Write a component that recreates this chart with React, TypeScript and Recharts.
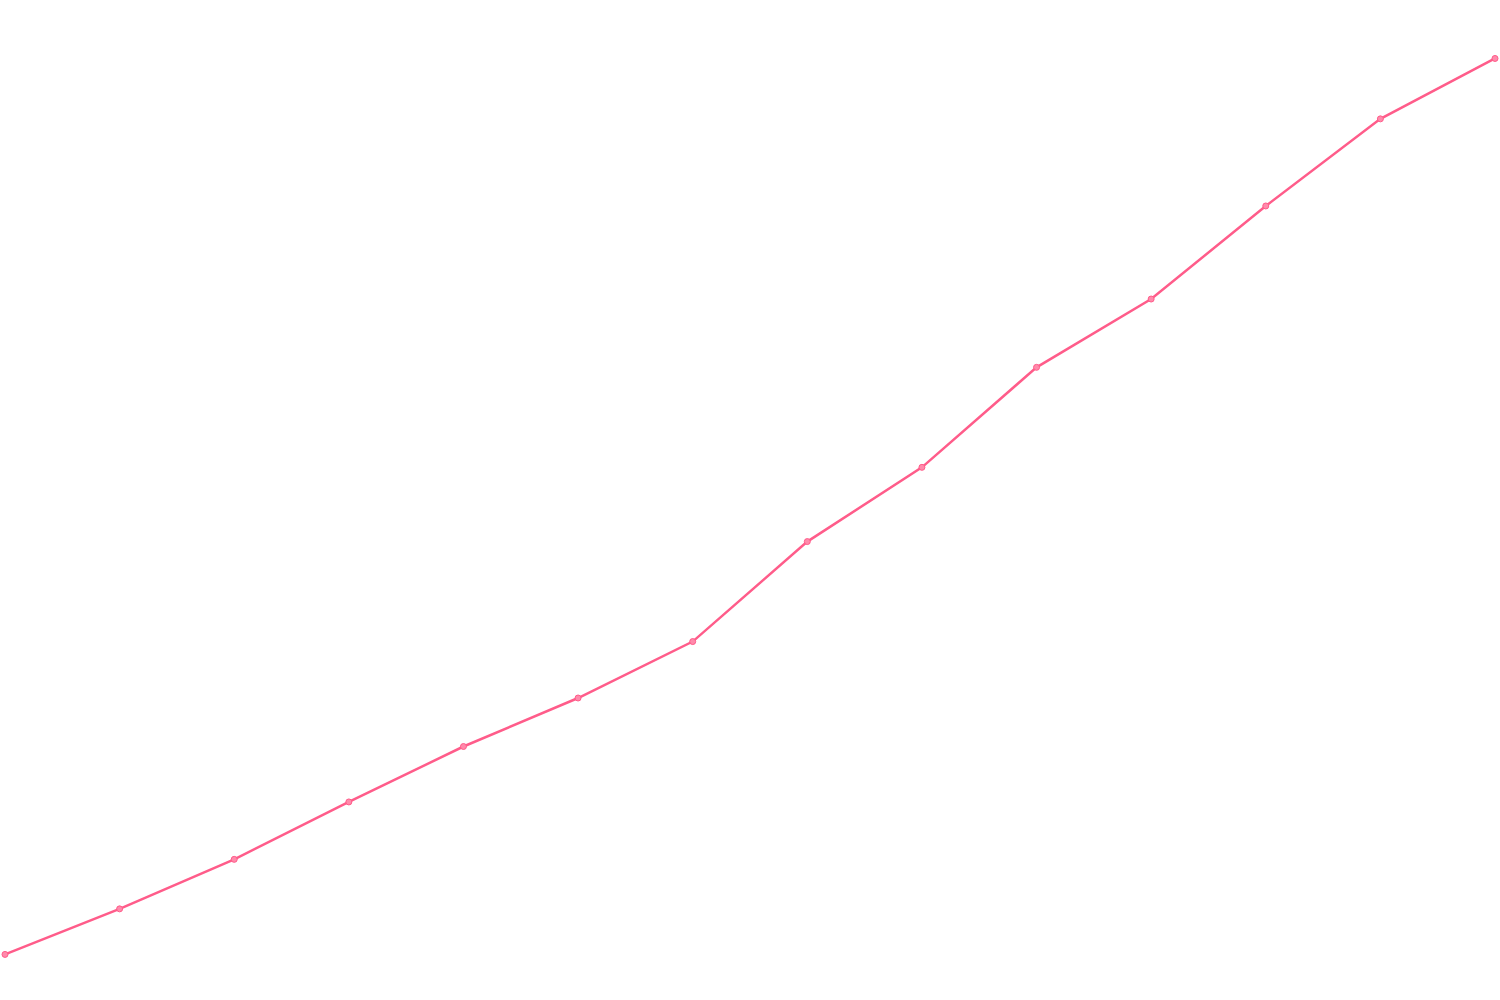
import React from 'react';
import { LineChart, Line, XAxis, YAxis } from 'recharts';

const categories = ['1', '2', '3', '4', '5', '6', '7', '8', '9', '10', '11', '12', '13', '14'];
const values = [4.1, 8.7, 13.7, 19.5, 25.1, 30.0, 35.7, 45.8, 53.3, 63.4, 70.3, 79.7, 88.5, 94.6];

const data = categories.map((c, i) => ({ name: c, value: values[i] }));

export default function App() {
  return (
    <div style={{ position: 'absolute', left: 0, top: 0, width: 1500, height: 1000, background: '#fff' }}>
      <LineChart width={1500} height={1000} data={data} margin={{ top: 5, right: 5, bottom: 5, left: 5 }}>
        <XAxis dataKey="name" hide />
        <YAxis hide domain={[0, 100]} />
        <Line
          type="linear"
          dataKey="value"
          stroke="#ff5c8a"
          strokeWidth={2.5}
          dot={{ r: 3, fill: '#ff8aab', stroke: '#ff5c8a', strokeWidth: 1 }}
          isAnimationActive={false}
        />
      </LineChart>
    </div>
  );
}
